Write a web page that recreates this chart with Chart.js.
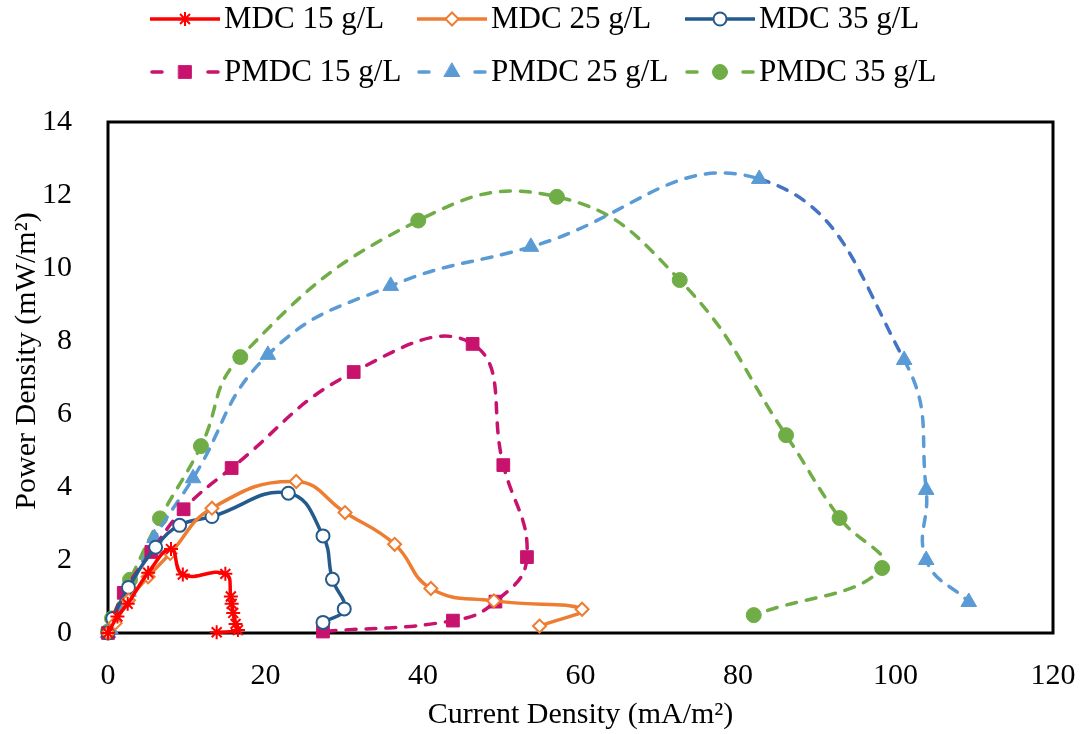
<!DOCTYPE html>
<html>
<head>
<meta charset="utf-8">
<script src="https://cdn.jsdelivr.net/npm/chart.js@4.4.0/dist/chart.umd.min.js"></script>
<style>
    html, body { margin: 0; padding: 0; background: #fff; }
</style>
</head>
<body>
<canvas id="powerChart" width="1085" height="734"></canvas>
<script>
// Datos: densidad de corriente (mA/m²) y de potencia (mW/m²)
const mdc15X = [0, 1.2, 2.5, 5.1, 8.0, 9.5, 14.9, 15.6, 15.7, 15.9, 16.2, 16.5, 13.8];
const mdc15Y = [0, 0.45, 0.8, 1.65, 2.3, 1.6, 1.62, 1.0, 0.8, 0.55, 0.25, 0.08, 0.02];

const mdc25X = [0, 0.9, 2.6, 5.1, 7.9, 13.2, 23.9, 30.1, 36.4, 41.0, 49.0, 60.2, 54.8];
const mdc25Y = [0, 0.27, 0.9, 1.54, 2.18, 3.42, 4.15, 3.3, 2.43, 1.22, 0.88, 0.65, 0.19];

const mdc35X = [0, 0.6, 2.6, 6.05, 9.1, 13.2, 22.9, 27.3, 28.5, 30.0, 27.3];
const mdc35Y = [0, 0.4, 1.25, 2.35, 2.95, 3.19, 3.83, 2.66, 1.47, 0.66, 0.29];

const pmdc15X = [0, 2.0, 5.5, 9.6, 15.7, 31.2, 46.3, 50.2, 53.2, 49.2, 43.8, 27.3];
const pmdc15Y = [0, 1.1, 2.22, 3.39, 4.52, 7.15, 7.92, 4.6, 2.08, 0.86, 0.34, 0.04];

const pmdc25X = [0, 0.3, 2.6, 5.9, 10.8, 20.3, 35.9, 53.7, 82.7, 101.1, 103.9, 103.9, 109.3];
const pmdc25Y = [0, 0.1, 1.13, 2.6, 4.24, 7.62, 9.51, 10.58, 12.44, 7.48, 3.92, 2.0, 0.85];

const pmdc35X = [0, 0.5, 2.8, 6.6, 11.8, 16.8, 39.4, 57.0, 72.6, 86.1, 92.9, 98.3, 82.0];
const pmdc35Y = [0.04, 0.4, 1.46, 3.14, 5.12, 7.56, 11.3, 11.95, 9.67, 5.42, 3.15, 1.78, 0.49];

const seriesLabels = ['MDC 15 g/L', 'MDC 25 g/L', 'MDC 35 g/L', 'PMDC 15 g/L', 'PMDC 25 g/L', 'PMDC 35 g/L'];

// Ejes
const xTicks = { min: 0, max: 120, step: 20 };
const yTicks = { min: 0, max: 14, step: 2 };
const xTitle = 'Current Density (mA/m²)';
const yTitle = 'Power Density (mW/m²)';

const FONT = '"Liberation Serif", "Times New Roman", serif';
const TENSION = 0.45;

function toPoints(xs, ys) {
    return xs.map((x, i) => ({ x: x, y: ys[i] }));
}

// Estilo de cada serie
function mdcSeries(label, xs, ys, color, pointStyle, radius, filled) {
    return {
        label: label,
        data: toPoints(xs, ys),
        showLine: true,
        borderColor: color,
        borderWidth: 3.5,
        tension: TENSION,
        pointStyle: pointStyle,
        pointRadius: radius,
        pointHoverRadius: radius,
        pointBorderColor: color,
        pointBackgroundColor: filled ? color : '#fff',
        pointBorderWidth: 2,
        clip: false
    };
}

function pmdcSeries(label, xs, ys, color, pointStyle, radius) {
    return {
        label: label,
        data: toPoints(xs, ys),
        showLine: true,
        borderColor: color,
        borderWidth: 3.5,
        borderDash: [10, 10],
        borderCapStyle: 'round',
        tension: TENSION,
        pointStyle: pointStyle,
        pointRadius: radius,
        pointHoverRadius: radius,
        pointBorderColor: color,
        pointBackgroundColor: color,
        pointBorderWidth: 1,
        clip: false
    };
}

const datasets = [
    mdcSeries(seriesLabels[0], mdc15X, mdc15Y, '#FF0000', 'star', 7, true),
    mdcSeries(seriesLabels[1], mdc25X, mdc25Y, '#ED7D31', 'rectRot', 6.5, false),
    mdcSeries(seriesLabels[2], mdc35X, mdc35Y, '#245A8C', 'circle', 6.5, false),
    pmdcSeries(seriesLabels[3], pmdc15X, pmdc15Y, '#C8136E', 'rect', 9),
    pmdcSeries(seriesLabels[4], pmdc25X, pmdc25Y, '#5B9BD5', 'triangle', 9),
    pmdcSeries(seriesLabels[5], pmdc35X, pmdc35Y, '#70AD47', 'circle', 7.5)
];

// El tramo descendente tras el máximo de PMDC 25 aparece en un azul más oscuro
datasets[4].segment = {
    borderColor: ctx => (ctx.p0DataIndex === 8 ? '#4472C4' : undefined)
};

// Marco negro alrededor del área de trazado
const plotFrame = {
    id: 'plotFrame',
    beforeDatasetsDraw(chart) {
        const { ctx, chartArea: a } = chart;
        ctx.save();
        ctx.strokeStyle = '#000';
        ctx.lineWidth = 3;
        ctx.strokeRect(a.left, a.top, a.right - a.left, a.bottom - a.top);
        ctx.restore();
    }
};

// Título del eje Y (un poco por encima del centro, como en el original)
const yAxisTitle = {
    id: 'yAxisTitle',
    afterDraw(chart) {
        const ctx = chart.ctx;
        ctx.save();
        ctx.translate(27, 361);
        ctx.rotate(-Math.PI / 2);
        ctx.fillStyle = '#000';
        ctx.font = '30px ' + FONT;
        ctx.textAlign = 'center';
        ctx.textBaseline = 'middle';
        ctx.fillText(yTitle, 0, 0);
        ctx.restore();
    }
};

// Leyenda de dos filas con muestra de línea y marcador
const legendLayout = { cols: [150, 417, 685], rows: [19, 72], sample: 70, gap: 4 };

const seriesLegend = {
    id: 'seriesLegend',
    afterDraw(chart) {
        const ctx = chart.ctx;
        chart.data.datasets.forEach((ds, i) => {
            const x0 = legendLayout.cols[i % 3];
            const y = legendLayout.rows[Math.floor(i / 3)];
            const w = legendLayout.sample;
            ctx.save();
            ctx.strokeStyle = ds.borderColor;
            ctx.lineWidth = ds.borderWidth;
            ctx.beginPath();
            if (ds.borderDash) {
                ctx.lineCap = 'round';
                ctx.moveTo(x0 + 2, y); ctx.lineTo(x0 + 12, y);
                ctx.moveTo(x0 + w - 12, y); ctx.lineTo(x0 + w - 2, y);
            } else {
                ctx.moveTo(x0, y); ctx.lineTo(x0 + w, y);
            }
            ctx.stroke();
            ctx.fillStyle = ds.pointBackgroundColor;
            ctx.strokeStyle = ds.pointBorderColor;
            ctx.lineWidth = ds.pointBorderWidth;
            Chart.helpers.drawPoint(ctx, {
                pointStyle: ds.pointStyle,
                radius: ds.pointRadius,
                rotation: 0,
                borderWidth: ds.pointBorderWidth
            }, x0 + w / 2, y);
            ctx.fillStyle = '#000';
            ctx.font = '31px ' + FONT;
            ctx.textBaseline = 'middle';
            ctx.fillText(ds.label, x0 + w + legendLayout.gap, y + 1);
            ctx.restore();
        });
    }
};

new Chart(document.getElementById('powerChart'), {
    type: 'scatter',
    data: { datasets: datasets },
    plugins: [plotFrame, yAxisTitle, seriesLegend],
    options: {
        responsive: false,
        animation: false,
        events: [],
        layout: {
            padding: { top: 122, right: 32, bottom: 0, left: 0 }
        },
        plugins: {
            legend: { display: false },
            tooltip: { enabled: false }
        },
        scales: {
            x: {
                type: 'linear',
                min: xTicks.min,
                max: xTicks.max,
                ticks: {
                    stepSize: xTicks.step,
                    color: '#000',
                    font: { family: FONT, size: 30 },
                    padding: 17,
                    maxRotation: 0
                },
                grid: { display: false },
                border: { display: false },
                title: {
                    display: true,
                    text: xTitle,
                    color: '#000',
                    font: { family: FONT, size: 30 },
                    padding: { top: 0, bottom: 1 }
                },
                afterFit(scale) {
                    scale.height = 101;
                    scale.paddingLeft = 0;
                    scale.paddingRight = 0;
                }
            },
            y: {
                type: 'linear',
                min: yTicks.min,
                max: yTicks.max,
                ticks: {
                    stepSize: yTicks.step,
                    color: '#000',
                    font: { family: FONT, size: 30 },
                    padding: 28
                },
                grid: { display: false },
                border: { display: false },
                title: { display: false },
                afterFit(scale) {
                    scale.width = 108;
                    scale.paddingTop = 0;
                    scale.paddingBottom = 0;
                }
            }
        }
    }
});
</script>
</body>
</html>
